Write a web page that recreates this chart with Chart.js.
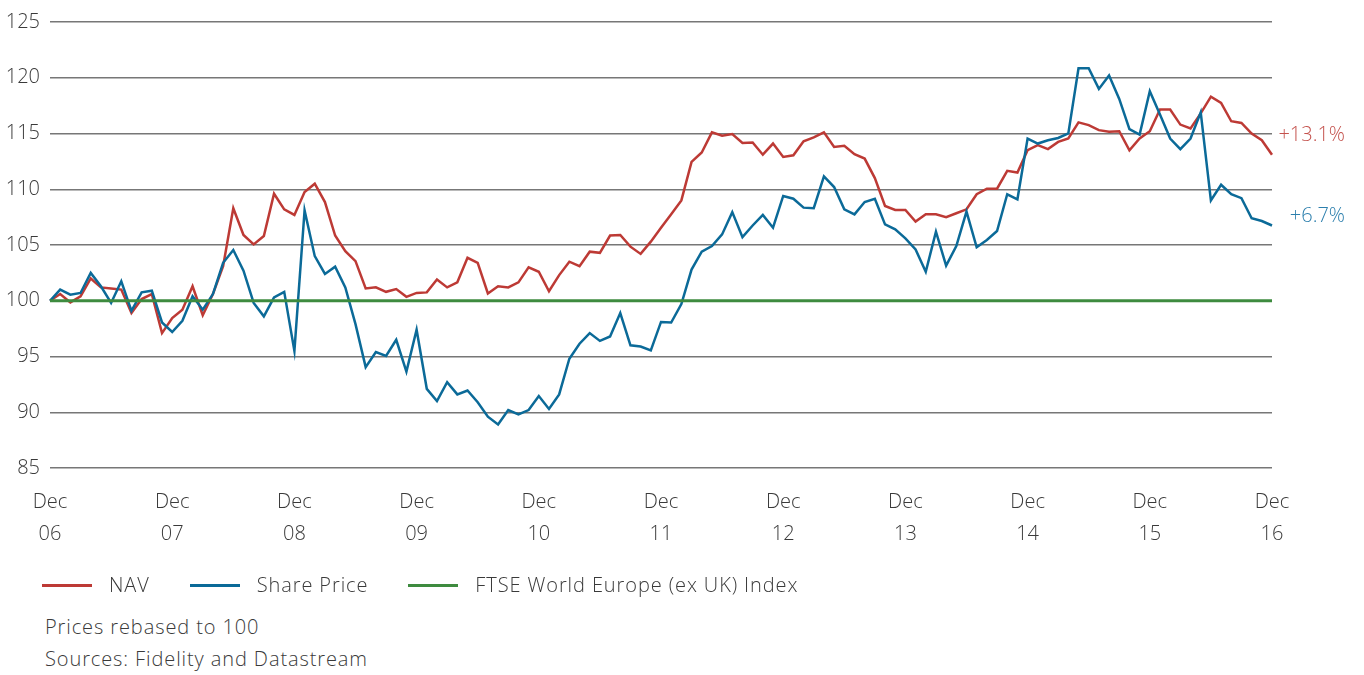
<!DOCTYPE html>
<html>
<head>
<meta charset="utf-8">
<script src="https://cdn.jsdelivr.net/npm/chart.js@4.4.1/dist/chart.umd.min.js"></script>
<style>
  body { margin: 0; background: #fff; font-family: "Open Sans", sans-serif; font-weight: 300; color: #3a3a3a; }
  #wrap { position: relative; width: 1364px; height: 575px; }
  #legend { position: absolute; left: 42px; top: 572px; display: flex; font-size: 20px; line-height: 26px; letter-spacing: 0.9px; }
  #legend .item { display: flex; align-items: center; margin-right: 40px; }
  #legend .swatch { width: 50px; height: 3px; margin-right: 17px; }
  #notes { position: absolute; left: 45px; top: 611px; font-size: 20px; line-height: 32px; letter-spacing: 0.9px; }
</style>
</head>
<body>
<div id="wrap"><canvas id="chart" width="1364" height="575"></canvas></div>
<div id="legend"></div>
<div id="notes">Prices rebased to 100<br>Sources: Fidelity and Datastream</div>
<script>
// monthly, Dec 06 .. Dec 16, rebased to 100
const nav = [
  100, 100.6, 99.85, 100.4, 102.0, 101.2, 101.1, 101.0, 98.9, 100.15, 100.6, 97.1,
  98.45, 99.2, 101.3, 98.7, 100.6, 103.1, 108.3, 105.9, 105.05, 105.8, 109.6, 108.2,
  107.7, 109.75, 110.5, 108.85, 105.85, 104.45, 103.55, 101.1, 101.2, 100.8, 101.05, 100.35,
  100.7, 100.75, 101.9, 101.2, 101.65, 103.85, 103.4, 100.65, 101.3, 101.2, 101.65, 103.0,
  102.6, 100.85, 102.3, 103.5, 103.1, 104.4, 104.3, 105.85, 105.9, 104.85, 104.2, 105.3,
  106.55, 107.75, 109.0, 112.45, 113.3, 115.1, 114.8, 114.95, 114.15, 114.2, 113.1, 114.1,
  112.9, 113.05, 114.3, 114.65, 115.1, 113.8, 113.9, 113.15, 112.75, 111.0, 108.5, 108.15,
  108.15, 107.1, 107.75, 107.75, 107.5, 107.85, 108.2, 109.55, 110.05, 110.05, 111.65, 111.5,
  113.5, 113.95, 113.6, 114.25, 114.55, 116.0, 115.75, 115.3, 115.15, 115.2, 113.5, 114.55,
  115.2, 117.15, 117.15, 115.8, 115.45, 116.8, 118.3, 117.75, 116.1, 115.95, 115.0, 114.4,
  113.1
];
const sharePrice = [
  100, 101.0, 100.55, 100.7, 102.5, 101.3, 99.8, 101.75, 99.1, 100.75, 100.9, 98.05,
  97.2, 98.2, 100.4, 99.2, 100.6, 103.4, 104.55, 102.7, 99.8, 98.6, 100.3, 100.8,
  95.5, 108.1, 104.0, 102.4, 103.05, 101.2, 97.9, 94.05, 95.4, 95.05, 96.5, 93.65,
  97.4, 92.1, 91.0, 92.7, 91.6, 91.95, 90.9, 89.6, 88.9, 90.2, 89.8, 90.2,
  91.45, 90.3, 91.6, 94.8, 96.15, 97.1, 96.4, 96.8, 98.9, 96.0, 95.9, 95.55,
  98.1, 98.05, 99.7, 102.8, 104.4, 104.9, 105.95, 107.95, 105.7, 106.75, 107.7, 106.55,
  109.4, 109.15, 108.35, 108.3, 111.15, 110.2, 108.2, 107.75, 108.85, 109.15, 106.85, 106.4,
  105.6, 104.6, 102.6, 106.2, 103.15, 104.9, 108.0, 104.8, 105.45, 106.25, 109.55, 109.1,
  114.55, 114.1, 114.4, 114.6, 115.0, 120.85, 120.85, 119.0, 120.2, 118.1, 115.4, 114.9,
  118.8, 116.7, 114.55, 113.6, 114.55, 116.9, 109.0, 110.4, 109.55, 109.2, 107.4, 107.15,
  106.75
];
const ftseIndex = [
  100, 100, 100, 100, 100, 100, 100, 100, 100, 100, 100, 100,
  100, 100, 100, 100, 100, 100, 100, 100, 100, 100, 100, 100,
  100, 100, 100, 100, 100, 100, 100, 100, 100, 100, 100, 100,
  100, 100, 100, 100, 100, 100, 100, 100, 100, 100, 100, 100,
  100, 100, 100, 100, 100, 100, 100, 100, 100, 100, 100, 100,
  100, 100, 100, 100, 100, 100, 100, 100, 100, 100, 100, 100,
  100, 100, 100, 100, 100, 100, 100, 100, 100, 100, 100, 100,
  100, 100, 100, 100, 100, 100, 100, 100, 100, 100, 100, 100,
  100, 100, 100, 100, 100, 100, 100, 100, 100, 100, 100, 100,
  100, 100, 100, 100, 100, 100, 100, 100, 100, 100, 100, 100,
  100
];
const seriesNames = ["NAV", "Share Price", "FTSE World Europe (ex UK) Index"];
const endLabels = ["+13.1%", "+6.7%", null];
const yTicks = [85, 90, 95, 100, 105, 110, 115, 120, 125];

const monthNames = ["Jan", "Feb", "Mar", "Apr", "May", "Jun", "Jul", "Aug", "Sep", "Oct", "Nov", "Dec"];
const categories = [];
for (let i = 0; i < nav.length; i++) {
  const m = (11 + i) % 12;
  const yr = 6 + Math.floor((11 + i) / 12);
  categories.push(monthNames[m] + " " + String(yr).padStart(2, "0"));
}

const colors = ["#bd3a35", "#0b6a98", "#3e8b3f"];
const labelColors = ["#c4524d", "#2c7fad"];
const FONT = "Open Sans";

// legend in html
const legend = document.getElementById("legend");
seriesNames.forEach((name, i) => {
  const item = document.createElement("div");
  item.className = "item";
  item.innerHTML = `<span class="swatch" style="background:${colors[i]}"></span><span>${name}</span>`;
  legend.appendChild(item);
});

const endLabelPlugin = {
  id: "endLabels",
  afterDatasetsDraw(chart) {
    const { ctx, chartArea, scales } = chart;
    const shift = [-19, -9];
    ctx.save();
    ctx.font = "300 20px " + FONT;
    ctx.textAlign = "right";
    ctx.textBaseline = "middle";
    endLabels.forEach((txt, i) => {
      if (!txt) return;
      const data = chart.data.datasets[i].data;
      const y = scales.y.getPixelForValue(data[data.length - 1]) + shift[i];
      ctx.fillStyle = labelColors[i];
      ctx.fillText(txt, chartArea.right + 73, y);
    });
    ctx.restore();
  }
};

new Chart(document.getElementById("chart"), {
  type: "line",
  data: {
    labels: categories,
    datasets: [
      { label: seriesNames[0], data: nav, borderColor: colors[0], borderWidth: 2.5, pointRadius: 0, tension: 0, order: 2 },
      { label: seriesNames[1], data: sharePrice, borderColor: colors[1], borderWidth: 2.5, pointRadius: 0, tension: 0, order: 1 },
      { label: seriesNames[2], data: ftseIndex, borderColor: colors[2], borderWidth: 3, pointRadius: 0, tension: 0, order: 0 }
    ]
  },
  options: {
    responsive: false,
    animation: false,
    layout: { padding: { left: 0, right: 92, top: 2, bottom: 7 } },
    plugins: { legend: { display: false }, tooltip: { enabled: false } },
    scales: {
      x: {
        grid: { display: false, drawTicks: false },
        border: { display: false },
        ticks: {
          autoSkip: false,
          maxRotation: 0,
          padding: 18,
          color: "#3a3a3a",
          font: { family: FONT, size: 20, weight: 300, lineHeight: 1.6 },
          callback(v, i) {
            const c = categories[i];
            return c.startsWith("Dec") ? c.split(" ") : "";
          }
        }
      },
      y: {
        min: yTicks[0],
        max: yTicks[yTicks.length - 1],
        afterBuildTicks(axis) { axis.ticks = yTicks.map(v => ({ value: v })); },
        afterFit(axis) { axis.width = 50; },
        grid: { color: "#777", lineWidth: 1.5, drawTicks: false },
        border: { display: false },
        ticks: { padding: 10, color: "#3a3a3a", font: { family: FONT, size: 20, weight: 300 } }
      }
    }
  },
  plugins: [endLabelPlugin]
});
</script>
</body>
</html>
